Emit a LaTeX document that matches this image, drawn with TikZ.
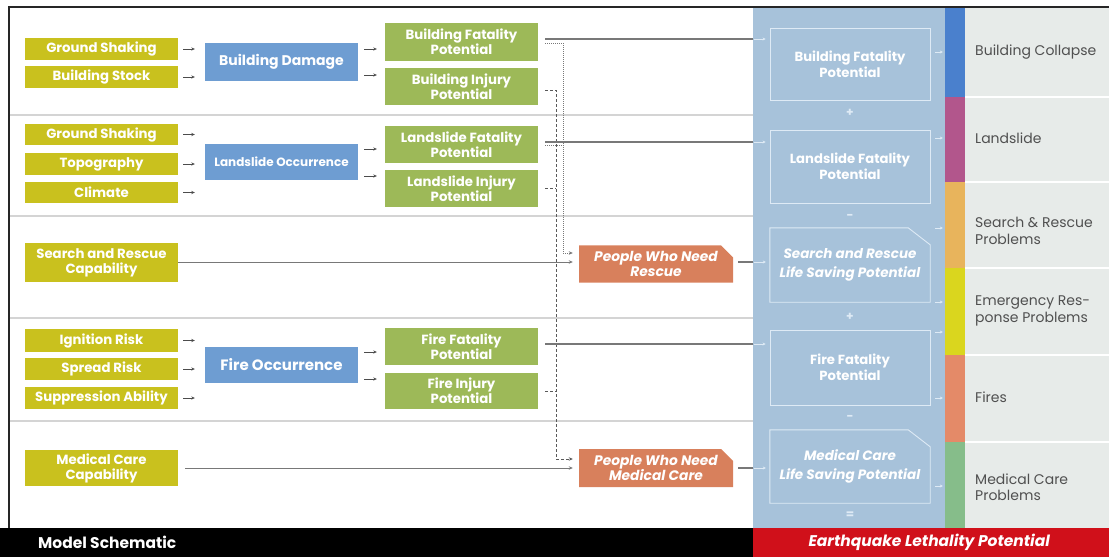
\documentclass[tikz,border=0pt]{standalone}
\usepackage{fontspec}
\setmainfont{Poppins}
\usetikzlibrary{arrows.meta,shapes.misc}
\definecolor{cYel}{RGB}{201,193,30}
\definecolor{cBlue}{RGB}{110,157,210}
\definecolor{cGreen}{RGB}{157,185,88}
\definecolor{cOrg}{RGB}{216,128,92}
\definecolor{cPanel}{RGB}{167,194,218}
\definecolor{cPanelLine}{RGB}{222,234,245}
\definecolor{cGray}{RGB}{231,235,233}
\definecolor{cLine}{RGB}{120,120,120}
\definecolor{cSep}{RGB}{212,212,212}
\definecolor{cTxt}{RGB}{80,80,80}
\definecolor{sBlue}{RGB}{74,128,205}
\definecolor{sMag}{RGB}{178,86,140}
\definecolor{sOrg}{RGB}{232,180,92}
\definecolor{sYel}{RGB}{218,214,30}
\definecolor{sSal}{RGB}{228,138,104}
\definecolor{sGrn}{RGB}{134,189,138}
\definecolor{cRed}{RGB}{208,16,26}
\begin{document}
\begin{tikzpicture}[x=1pt,y=-1pt,
  base/.style={inner sep=0pt, align=center, text=white, font=\bfseries\fontsize{13.3}{15}\selectfont},
  inbox/.style={base, fill=cYel, minimum width=153pt},
  procbox/.style={base, fill=cBlue, minimum width=153pt, font=\bfseries\fontsize{14}{15}\selectfont},
  outbox/.style={base, fill=cGreen, minimum width=153pt},
  pplbox/.style={base, fill=cOrg, minimum width=154pt, chamfered rectangle, chamfered rectangle corners=north east, chamfered rectangle xsep=6pt, chamfered rectangle ysep=6pt, font=\bfseries\itshape\fontsize{13.8}{15}\selectfont},
  rbox/.style={base, draw=cPanelLine, line width=0.9pt, minimum width=160pt, font=\bfseries\fontsize{13.2}{16}\selectfont},
  rchbox/.style={base, minimum width=160pt, font=\bfseries\itshape\fontsize{13.5}{19}\selectfont},
  chline/.style={draw=cPanelLine, line width=0.9pt},
  block/.style={inner sep=0pt, minimum width=#1},
  strip/.style={inner sep=0pt, minimum width=20pt, fill=#1},
  lbl/.style={anchor=west, align=left, inner sep=0pt, text=cTxt, font=\fontsize{14}{16.5}\selectfont},
  opr/.style={text=cPanelLine, font=\bfseries\fontsize{12}{12}\selectfont, inner sep=0pt},
  smallarr/.style={-{Stealth[length=3.5pt,width=3.2pt]}, line width=0.9pt, draw=black!70},
  mline/.style={draw=cLine, line width=1.3pt},
  parr/.style={-{Stealth[length=3pt,width=3pt]}, draw=cPanelLine, line width=1pt},
  dotline/.style={draw=cLine, line width=0.9pt, dash pattern=on 1pt off 1pt},
  dashline/.style={draw=black!65, line width=0.9pt, dash pattern=on 3pt off 2pt},
]
\useasboundingbox (0,0) rectangle (1109,557);
% right panels
\node[block=192pt, minimum height=520pt, fill=cPanel] (panel) at (849,268) {};
\node[block=144pt, minimum height=520pt, fill=cGray] (gpanel) at (1037,268) {};
\node[strip=sBlue, minimum height=89pt] (s1) at (955,52.5) {};
\node[strip=sMag, minimum height=85pt] (s2) at (955,139.5) {};
\node[strip=sOrg, minimum height=86pt] (s3) at (955,225) {};
\node[strip=sYel, minimum height=87pt] (s4) at (955,311.5) {};
\node[strip=sSal, minimum height=87pt] (s5) at (955,398.5) {};
\node[strip=sGrn, minimum height=86pt] (s6) at (955,485) {};
\foreach \yy in {97,182,268,355,442}
  \draw[white, line width=1.5pt] (s1.east |- 0,\yy) -- (gpanel.east |- 0,\yy);
% frame and separators
\draw[black!85, line width=1.6pt] (9,528) -- (9,7) -- (1109,7);
\foreach \yy in {115,216,318,421}
  \draw[cSep, line width=1.3pt] (9.8,\yy) -- (panel.west |- 0,\yy);
% bottom bars
\node[block=753pt, minimum height=29pt, fill=black, anchor=north west] (bbar) at (0,528) {};
\node[block=356pt, minimum height=29pt, fill=cRed, anchor=north west] (rbar) at (753,528) {};
\node[anchor=west, text=white, inner sep=0pt, font=\bfseries\fontsize{15.5}{16}\selectfont] (ms) at (38,542.5) {Model Schematic};
\node[text=white, inner sep=0pt, font=\bfseries\itshape\fontsize{15.5}{16}\selectfont] (elp) at ([xshift=-2pt]rbar.center) {Earthquake Lethality Potential};
% labels
\node[lbl] (l1) at (975,52) {Building Collapse};
\node[lbl] (l2) at (975,138) {Landslide};
\node[lbl] (l3) at (975,231) {Search \& Rescue\\Problems};
\node[lbl] (l4) at (975,311) {Emergency Res-\\ponse Problems};
\node[lbl] (l5) at (975,397) {Fires};
\node[lbl] (l6) at (975,487) {Medical Care\\Problems};
% inputs
\node[inbox, minimum height=22pt] (gs1) at (101.5,49) {Ground Shaking};
\node[inbox, minimum height=22pt] (bs) at (101.5,77) {Building Stock};
\node[inbox, minimum height=21pt] (gs2) at (101.5,134.5) {Ground Shaking};
\node[inbox, minimum height=22pt] (topo) at (101.5,164) {Topography};
\node[inbox, minimum height=21pt] (clim) at (101.5,192.5) {Climate};
\node[inbox, minimum height=39pt] (sar) at (101.5,262.5) {Search and Rescue\\Capability};
\node[inbox, minimum height=23pt] (ign) at (101.5,340.5) {Ignition Risk};
\node[inbox, minimum height=22pt] (spr) at (101.5,369) {Spread Risk};
\node[inbox, minimum height=22pt] (sup) at (101.5,398) {Suppression Ability};
\node[inbox, minimum height=36pt] (mcc) at (101.5,468) {Medical Care\\Capability};
% process
\node[procbox, minimum height=38pt] (bd) at (281.5,62) {Building Damage};
\node[procbox, minimum height=36pt, font=\bfseries\fontsize{12}{14}\selectfont] (lo) at (281.5,162) {Landslide Occurrence};
\node[procbox, minimum height=36pt, font=\bfseries\fontsize{15}{16}\selectfont] (fo) at (281.5,365) {Fire Occurrence};
% outputs
\node[outbox, minimum height=38pt] (bfp) at (461.5,42) {Building Fatality\\Potential};
\node[outbox, minimum height=37pt] (bip) at (461.5,86.5) {Building Injury\\Potential};
\node[outbox, minimum height=37pt] (lfp) at (461.5,144.5) {Landslide Fatality\\Potential};
\node[outbox, minimum height=37pt] (lip) at (461.5,188.5) {Landslide Injury\\Potential};
\node[outbox, minimum height=37pt] (ffp) at (461.5,346.5) {Fire Fatality\\Potential};
\node[outbox, minimum height=36pt] (fip) at (461.5,391) {Fire Injury\\Potential};
% people
\node[pplbox, minimum height=36pt] (pwr) at (656,264) {People Who Need\\Rescue};
\node[pplbox, minimum height=38pt] (pwm) at (656,468) {People Who Need\\Medical Care};
% right boxes
\node[rbox, minimum height=72pt] (rb1) at (850,64) {Building Fatality\\Potential};
\node[rbox, minimum height=73pt] (rb2) at (850,166.5) {Landslide Fatality\\Potential};
\node[rchbox, minimum height=74pt] (rb3) at (850,265) {Search and Rescue\\Life Saving Potential};
\node[rbox, minimum height=75pt] (rb4) at (850,367.5) {Fire Fatality\\Potential};
\node[rchbox, minimum height=73pt] (rb5) at (850,466.5) {Medical Care\\Life Saving Potential};
\foreach \b in {rb3, rb5}
  \draw[chline] (\b.south west) -- (\b.north west) -- ([xshift=-22pt]\b.north east) -- ([yshift=-17pt]\b.north east) -- (\b.south east) -- cycle;
\node[opr] (o1) at (850,113) {+};
\node[opr] (o2) at (850,217) {-};
\node[opr] (o3) at (850,317) {+};
\node[opr] (o4) at (850,418) {-};
\node[opr] (o5) at (850,515) {=};
% input arrows
\foreach \src/\dst in {gs1/bd, bs/bd, gs2/lo, topo/lo, clim/lo, ign/fo, spr/fo, sup/fo}
  \draw[smallarr, shorten <=5pt, shorten >=10pt] (\src.east) -- (\src.east -| \dst.west);
% output arrows
\foreach \src/\dst/\yy in {bd/bfp/49, bd/bip/75, lo/lfp/149, lo/lip/176, fo/ffp/352, fo/fip/379}
  \draw[smallarr, shorten <=6pt, shorten >=8pt] (\src.east |- 0,\yy) -- (\dst.west |- 0,\yy);
% dotted and dashed
\coordinate (vdot) at (563,0);
\coordinate (vdash) at (556,0);
\draw[dotline, -{Stealth[length=4pt,width=3.5pt]}, shorten >=6pt] ([xshift=7pt]bfp.east |- 0,43) -- (vdot |- 0,43) -- (vdot |- 0,253) -- (pwr.west |- 0,253);
\draw[dotline] ([xshift=7pt]lfp.east |- 0,145) -- (vdot |- 0,145);
\draw[dashline, -{Stealth[length=4pt,width=3.5pt]}, shorten >=6pt] ([xshift=7pt]bip.east |- 0,90) -- (vdash |- 0,90) -- (vdash |- 0,459) -- (pwm.west |- 0,459);
\draw[dashline] ([xshift=7pt]lip.east |- 0,188) -- (vdash |- 0,188);
\draw[dashline] ([xshift=7pt]fip.east |- 0,391) -- (vdash |- 0,391);
% capability lines
\draw[mline, line width=1pt, -{Stealth[length=4pt,width=3.5pt]}, shorten >=6pt] (sar.east |- 0,262) -- (pwr.west |- 0,262);
\draw[mline, line width=1pt, -{Stealth[length=4pt,width=3.5pt]}, shorten <=7pt, shorten >=6pt] (mcc.east) -- (pwm.west |- mcc.east);
% to right panel
\foreach \src/\dst/\yy in {bfp/rb1/39, lfp/rb2/142, ffp/rb4/344} {
  \draw[mline] ([xshift=7pt]\src.east |- 0,\yy) -- (panel.west |- 0,\yy);
  \draw[parr, shorten <=1pt, shorten >=4pt] (panel.west |- 0,\yy) -- (\dst.west |- 0,\yy);
}
\foreach \src/\dst/\yy in {pwr/rb3/262, pwm/rb5/468} {
  \draw[mline] ([xshift=5pt]\src.east |- 0,\yy) -- (panel.west |- 0,\yy);
  \draw[parr, shorten <=1pt, shorten >=4pt] (panel.west |- 0,\yy) -- (\dst.west |- 0,\yy);
}
% ticks to strips
\foreach \src/\dst/\yy in {rb1/s1/52, rb2/s2/138, rb3/s3/228, rb3/s4/302, rb4/s4/332, rb4/s5/398, rb5/s6/486}
  \draw[parr, shorten <=5pt, shorten >=2pt] (\src.east |- 0,\yy) -- (\dst.west |- 0,\yy);
\end{tikzpicture}
\end{document}
